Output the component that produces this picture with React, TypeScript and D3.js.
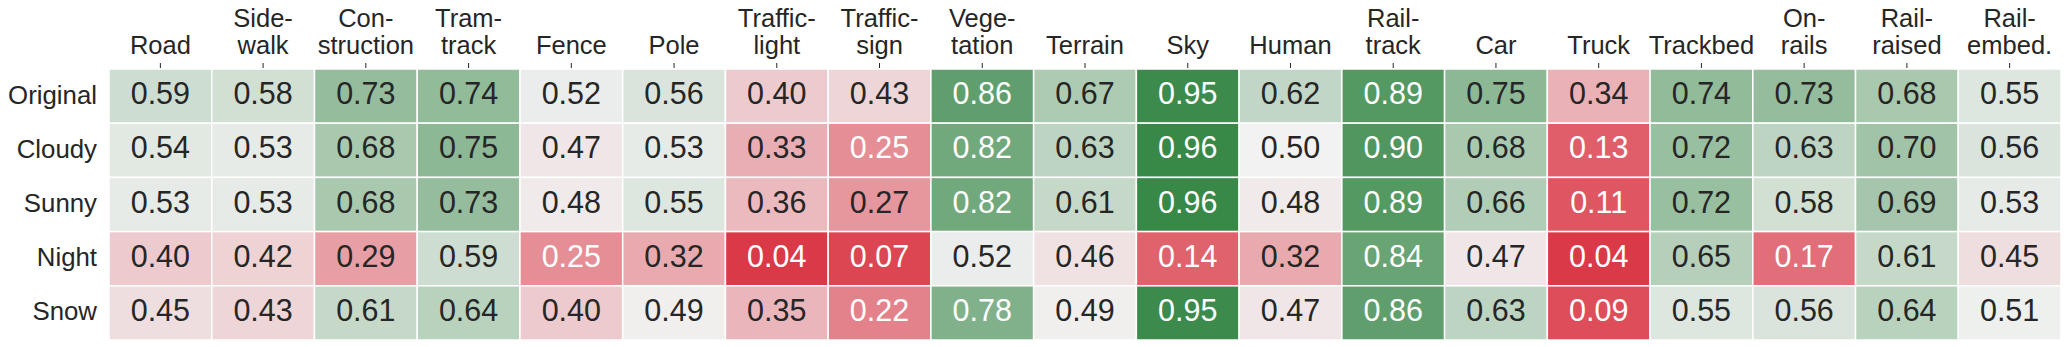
import React from "react";
import * as d3 from "d3";

const columns: string[][] = [
  ["Road"], ["Side-", "walk"], ["Con-", "struction"], ["Tram-", "track"], ["Fence"], ["Pole"],
  ["Traffic-", "light"], ["Traffic-", "sign"], ["Vege-", "tation"], ["Terrain"], ["Sky"], ["Human"],
  ["Rail-", "track"], ["Car"], ["Truck"], ["Trackbed"], ["On-", "rails"], ["Rail-", "raised"], ["Rail-", "embed."],
];
const rows = ["Original", "Cloudy", "Sunny", "Night", "Snow"];

const original = [0.59, 0.58, 0.73, 0.74, 0.52, 0.56, 0.40, 0.43, 0.86, 0.67, 0.95, 0.62, 0.89, 0.75, 0.34, 0.74, 0.73, 0.68, 0.55];
const cloudy = [0.54, 0.53, 0.68, 0.75, 0.47, 0.53, 0.33, 0.25, 0.82, 0.63, 0.96, 0.50, 0.90, 0.68, 0.13, 0.72, 0.63, 0.70, 0.56];
const sunny = [0.53, 0.53, 0.68, 0.73, 0.48, 0.55, 0.36, 0.27, 0.82, 0.61, 0.96, 0.48, 0.89, 0.66, 0.11, 0.72, 0.58, 0.69, 0.53];
const night = [0.40, 0.42, 0.29, 0.59, 0.25, 0.32, 0.04, 0.07, 0.52, 0.46, 0.14, 0.32, 0.84, 0.47, 0.04, 0.65, 0.17, 0.61, 0.45];
const snow = [0.45, 0.43, 0.61, 0.64, 0.40, 0.49, 0.35, 0.22, 0.78, 0.49, 0.95, 0.47, 0.86, 0.63, 0.09, 0.55, 0.56, 0.64, 0.51];

const values = [original, cloudy, sunny, night, snow];

const W = 2068;
const H = 347;
const left = 109;
const right = 2061;
const top = 69;
const bottom = 340;
const FONT = "'Liberation Sans', Arial, Helvetica, sans-serif";
const DARK = "#262626";

function luminance(c: string) {
  const rgb = d3.rgb(c);
  const f = (v: number) => {
    const s = v / 255;
    return s <= 0.03928 ? s / 12.92 : Math.pow((s + 0.055) / 1.055, 2.4);
  };
  return 0.2126 * f(rgb.r) + 0.7152 * f(rgb.g) + 0.0722 * f(rgb.b);
}

export default function App() {
  const flat = values.flat();
  const vmin = d3.min(flat)!;
  const vmax = d3.max(flat)!;
  const color = d3
    .scaleLinear<string>()
    .domain([vmin, (vmin + vmax) / 2, vmax])
    .range(["#da3a48", "#f2f2f2", "#388848"])
    .interpolate(d3.interpolateRgb);

  const x = d3.scaleBand<number>().domain(d3.range(columns.length)).range([left, right]);
  const y = d3.scaleBand<string>().domain(rows).range([top, bottom]);

  return (
    <div style={{ position: "absolute", left: 0, top: 0 }}>
      <svg width={W} height={H} style={{ display: "block" }} fontFamily={FONT}>
        <rect x={0} y={0} width={W} height={H} fill="#ffffff" />
        {rows.map((r, i) =>
          values[i].map((v, j) => {
            const c = color(v);
            const tc = luminance(c) > 0.408 ? DARK : "#ffffff";
            return (
              <g key={`${i}-${j}`}>
                <rect
                  x={x(j)!}
                  y={y(r)!}
                  width={x.bandwidth()}
                  height={y.bandwidth()}
                  fill={c}
                  stroke="#ffffff"
                  strokeWidth={1.5}
                />
                <text
                  x={x(j)! + x.bandwidth() / 2}
                  y={y(r)! + y.bandwidth() / 2 + 8}
                  textAnchor="middle"
                  fontSize={30.5}
                  fill={tc}
                >
                  {v.toFixed(2)}
                </text>
              </g>
            );
          })
        )}
        {rows.map((r) => (
          <text
            key={r}
            x={97}
            y={y(r)! + y.bandwidth() / 2 + 7.5}
            textAnchor="end"
            fontSize={25.8}
            fill={DARK}
          >
            {r}
          </text>
        ))}
        {columns.map((lines, j) => {
          const cx = x(j)! + x.bandwidth() / 2;
          return (
            <g key={j}>
              <line x1={cx} x2={cx} y1={63} y2={68} stroke={DARK} strokeWidth={1} />
              {lines.map((ln, k) => (
                <text
                  key={k}
                  x={cx}
                  y={54 - (lines.length - 1 - k) * 27.5}
                  textAnchor="middle"
                  fontSize={25.5}
                  fill={DARK}
                >
                  {ln}
                </text>
              ))}
            </g>
          );
        })}
      </svg>
    </div>
  );
}
